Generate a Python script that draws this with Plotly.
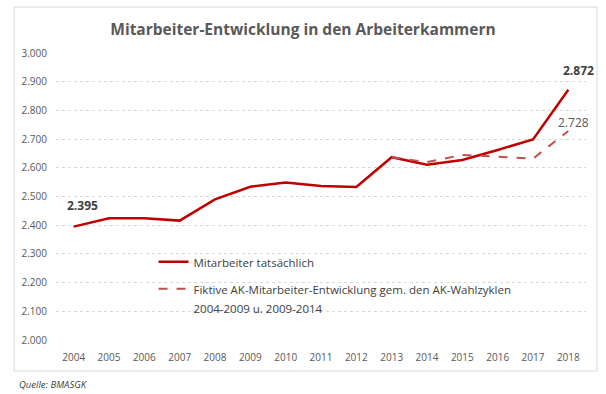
import plotly.graph_objects as go

years = list(range(2004, 2019))
actual = [2395, 2424, 2424, 2416, 2490, 2534, 2549, 2537, 2533, 2637, 2611, 2627, 2662, 2699, 2872]
fict_years = list(range(2013, 2019))
fictive = [2637, 2620, 2645, 2639, 2632, 2728]

y_ticks = [2000, 2100, 2200, 2300, 2400, 2500, 2600, 2700, 2800, 2900, 3000]

name_actual = "Mitarbeiter tatsächlich"
name_fict = "Fiktive AK-Mitarbeiter-Entwicklung gem. den AK-Wahlzyklen"
name_fict2 = "2004-2009 u. 2009-2014"
title = "Mitarbeiter-Entwicklung in den Arbeiterkammern"
source = "Quelle: BMASGK"

def fmt(v):
    return f"{v:,}".replace(",", ".")

FONT = "Open Sans"
GRAY = "#595959"

fig = go.Figure()
fig.add_trace(go.Scatter(x=years, y=actual, mode="lines", name=name_actual,
                         legendgroup="a", hoverinfo="skip",
                         line=dict(color="#C00000", width=2.5)))
fig.add_trace(go.Scatter(x=fict_years, y=fictive, mode="lines", name=name_fict,
                         legendgroup="b", hoverinfo="skip",
                         line=dict(color="#C0504D", width=2, dash="dash")))
# second line of the legend text for the fictive series (no marks)
fig.add_trace(go.Scatter(x=[None], y=[None], mode="lines", name=name_fict2,
                         legendgroup="b", hoverinfo="skip",
                         line=dict(color="rgba(0,0,0,0)", width=0)))

# data labels
fig.add_annotation(x=years[0], y=actual[0], text="<b>" + fmt(actual[0]) + "</b>",
                   showarrow=False, yshift=21, xshift=9,
                   font=dict(family=FONT, size=12, color="#404040"))
fig.add_annotation(x=years[-1], y=actual[-1], text="<b>" + fmt(actual[-1]) + "</b>",
                   showarrow=False, yshift=19, xshift=10,
                   font=dict(family=FONT, size=12, color="#404040"))
fig.add_annotation(x=fict_years[-1], y=fictive[-1], text=fmt(fictive[-1]),
                   showarrow=False, yshift=9, xshift=5,
                   font=dict(family=FONT, size=12, color=GRAY))

# source
fig.add_annotation(xref="paper", yref="paper", x=-0.074, y=-0.125, xanchor="left", yanchor="top",
                   text="<i>" + source + "</i>", showarrow=False,
                   font=dict(family=FONT, size=9.5, color="#404040"))

# outer frame
fig.add_shape(type="rect", xref="paper", yref="paper",
              x0=-0.079, x1=1.0208, y0=-0.108, y1=1.160,
              line=dict(color="#d9d9d9", width=1), fillcolor="rgba(0,0,0,0)", layer="below")

fig.update_layout(
    width=606, height=394,
    margin=dict(l=56, r=20, t=53, b=54),
    paper_bgcolor="white", plot_bgcolor="white",
    separators=",.",
    title=dict(text="<b>" + title + "</b>", x=0.5, xanchor="center", y=0.925, yanchor="middle",
               font=dict(family=FONT, size=15.5, color=GRAY)),
    font=dict(family=FONT, size=10, color=GRAY),
    showlegend=True,
    legend=dict(x=0.184, y=0.321, xanchor="left", yanchor="top", bgcolor="rgba(0,0,0,0)",
                font=dict(family=FONT, size=11.5, color="#404040"), valign="top",
                tracegroupgap=8, itemwidth=30),
    xaxis=dict(range=[2003.5, 2018.5], tickvals=years, tickformat="d",
               showgrid=False, showline=False, zeroline=False,
               ticks="outside", ticklen=8, tickcolor="rgba(0,0,0,0)",
               tickfont=dict(family=FONT, size=10, color=GRAY), fixedrange=True),
    yaxis=dict(range=[2000, 3000], tickvals=y_ticks, tickformat=",",
               showgrid=True, gridcolor="#d9d9d9", griddash="dot", gridwidth=1,
               zeroline=False, showline=False, ticks="outside", ticklen=6,
               tickcolor="rgba(0,0,0,0)",
               tickfont=dict(family=FONT, size=10, color=GRAY), fixedrange=True),
)

fig.write_html("out.html", config={"displayModeBar": False},
               post_script="document.body.style.margin='0';")
